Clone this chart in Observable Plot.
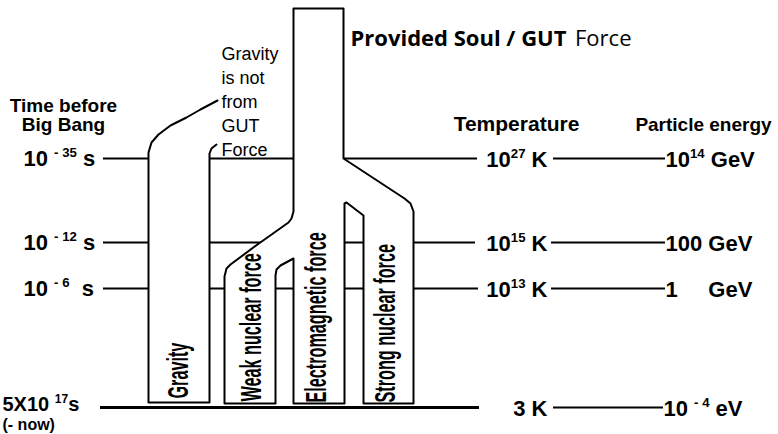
<!DOCTYPE html>
<html><head><meta charset="utf-8">
<script src="https://cdn.jsdelivr.net/npm/d3@7"></script>
<script src="https://cdn.jsdelivr.net/npm/@observablehq/plot@0.6"></script>
<style>html,body{margin:0;padding:0;background:#fff;} svg{display:block}</style>
</head><body><div id="chart"></div>
<script>
// ---------- data ----------
const timeLabels = ["10 ^{- 35} s", "10 ^{- 12} s", "10 ^{- 6}\u00A0\u00A0s", "5X10 ^{17}s"];
const nowNote = "(- now)";
const temperatureLabels = ["10^{27} K", "10^{15} K", "10^{13} K", "3 K"];
const energyLabels = ["10^{14} GeV", "100 GeV", "1\u00A0\u00A0\u00A0\u00A0\u00A0GeV", "10 ^{- 4} eV"];
const leftHeading = ["Time before", "Big Bang"];
const rightHeadings = ["Temperature", "Particle energy"];
const forces = ["Gravity", "Weak nuclear force", "Electromagnetic force", "Strong nuclear force"];
const gravityNote = ["Gravity", "is not", "from", "GUT", "Force"];
const titleBold = "Provided Soul / GUT";
const titleRegular = "Force";

// diagram outlines in diagram units
const gravityOutline = [[217,100],[200,109],[186,117],[170,125],[158,134],[151,142],[148,152],[148,402],[209,402],[209,153],[211,148],[216,144]];
const gutOutline = [[224,403],[224,276],[226,268],[230,264],[257,244],[288,222],[291,218],[293,211],[293,8],[343,8],[343,158],[404,198],[410,203],[413,211],[413,403],[363,403],[363,215],[346,202],[344,203],[344,403],[293,403],[293,258],[280,265],[276,269],[275,275],[275,403],[224,403]];

// ---------- layout ----------
const rowY = [158, 242, 288, 407];
const leftLine = [[103,477],[103,475],[103,478],[100,479]];
const rightLine = [[553,665],[551,665],[551,665],[553,663]];
const forceX = [178, 251, 316, 385];
const forceBottom = [398, 401, 402, 402];
const sans = "'Liberation Sans', Arial, Helvetica, sans-serif";

const segments = rowY.flatMap((y, i) => [
  {y, x1: leftLine[i][0], x2: leftLine[i][1]},
  {y, x1: rightLine[i][0], x2: rightLine[i][1]}
]);

const plot = Plot.plot({
  width: 778, height: 434, margin: 0,
  x: {domain: [0, 778], range: [0, 778], axis: null},
  y: {domain: [0, 434], range: [0, 434], axis: null},
  style: {background: "white", color: "black", fontFamily: sans},
  marks: [
    Plot.ruleY(segments, {y: "y", x1: "x1", x2: "x2", stroke: "black", strokeWidth: 2}),
    Plot.ruleY([rowY[3]], {x1: leftLine[3][0], x2: leftLine[3][1], stroke: "black", strokeWidth: 2.8}),
    Plot.line(gravityOutline, {x: d => d[0], y: d => d[1], fill: "white", stroke: "black", strokeWidth: 2, curve: "linear"}),
    Plot.line(gutOutline, {x: d => d[0], y: d => d[1], fill: "white", stroke: "black", strokeWidth: 2, curve: "linear", strokeLinejoin: "round"}),
    // title
    Plot.text([titleBold], {x: 350, y: 45, text: d => d, textAnchor: "start", lineAnchor: "bottom", fontFamily: "'Open Sans', sans-serif", fontWeight: "bold", fontSize: 22}),
    Plot.text([titleRegular], {x: 631, y: 45, text: d => d, textAnchor: "end", lineAnchor: "bottom", fontFamily: "'Open Sans', sans-serif", fontSize: 22}),
    // gravity note
    Plot.text(gravityNote, {x: 221, y: (d, i) => 59 + i * 24, text: d => d, textAnchor: "start", lineAnchor: "bottom", fontSize: 18}),
    // headings
    Plot.text(leftHeading, {x: 63, y: (d, i) => 111 + i * 19, text: d => d, lineAnchor: "bottom", fontWeight: "bold", fontSize: 19}),
    Plot.text(rightHeadings, {x: (d, i) => [516, 703][i], y: 130, text: d => d, lineAnchor: "bottom", fontWeight: "bold", fontSize: (d, i) => [21, 19][i]}),
    // row labels
    Plot.text(timeLabels.slice(0, 3), {x: 23, y: (d, i) => rowY[i], text: d => d, textAnchor: "start", fontWeight: "bold", fontSize: 22}),
    Plot.text(timeLabels.slice(3), {x: 2, y: rowY[3] - 3, text: d => d, textAnchor: "start", fontWeight: "bold", fontSize: 20}),
    Plot.text([nowNote], {x: 2, y: 429, text: d => d, textAnchor: "start", lineAnchor: "bottom", fontWeight: "bold", fontSize: 16}),
    Plot.text(temperatureLabels, {x: 547, y: (d, i) => rowY[i] + 1, text: d => d, textAnchor: "end", fontWeight: "bold", fontSize: 22}),
    Plot.text(energyLabels, {x: (d, i) => i === 3 ? 663 : 665, y: (d, i) => rowY[i] + 1, text: d => d, textAnchor: "start", fontWeight: "bold", fontSize: 22}),
    // force labels
    Plot.text(forces, {x: (d, i) => forceX[i], y: (d, i) => forceBottom[i], text: d => d, rotate: -90, textAnchor: "start", fontWeight: "bold", fontSize: 30})
  ]
});
document.getElementById("chart").append(plot);

// superscripts: "^{...}" becomes a raised smaller tspan
d3.select(plot).selectAll("text").each(function() {
  const t = this.textContent;
  if (!t.includes("^{")) return;
  const fs = parseFloat(getComputedStyle(this).fontSize);
  const parts = t.split(/(\^\{[^}]*\})/);
  const sel = d3.select(this);
  sel.text(null);
  let raised = false;
  for (const p of parts) {
    if (!p) continue;
    if (p.startsWith("^{")) {
      sel.append("tspan").attr("dy", -0.4 * fs).attr("font-size", 0.6 * fs).text(p.slice(2, -1));
      raised = true;
    } else {
      const ts = sel.append("tspan").text(p);
      if (raised) { ts.attr("dy", 0.4 * fs); raised = false; }
    }
  }
});
// condensed lettering for the rotated force labels
d3.select(plot).selectAll("text")
  .filter(function() { return forces.includes(this.textContent) && parseFloat(getComputedStyle(this).fontSize) > 24; })
  .each(function() {
    const L = this.getComputedTextLength();
    this.setAttribute("textLength", L * 0.54);
    this.setAttribute("lengthAdjust", "spacingAndGlyphs");
  });
</script>
</body></html>
